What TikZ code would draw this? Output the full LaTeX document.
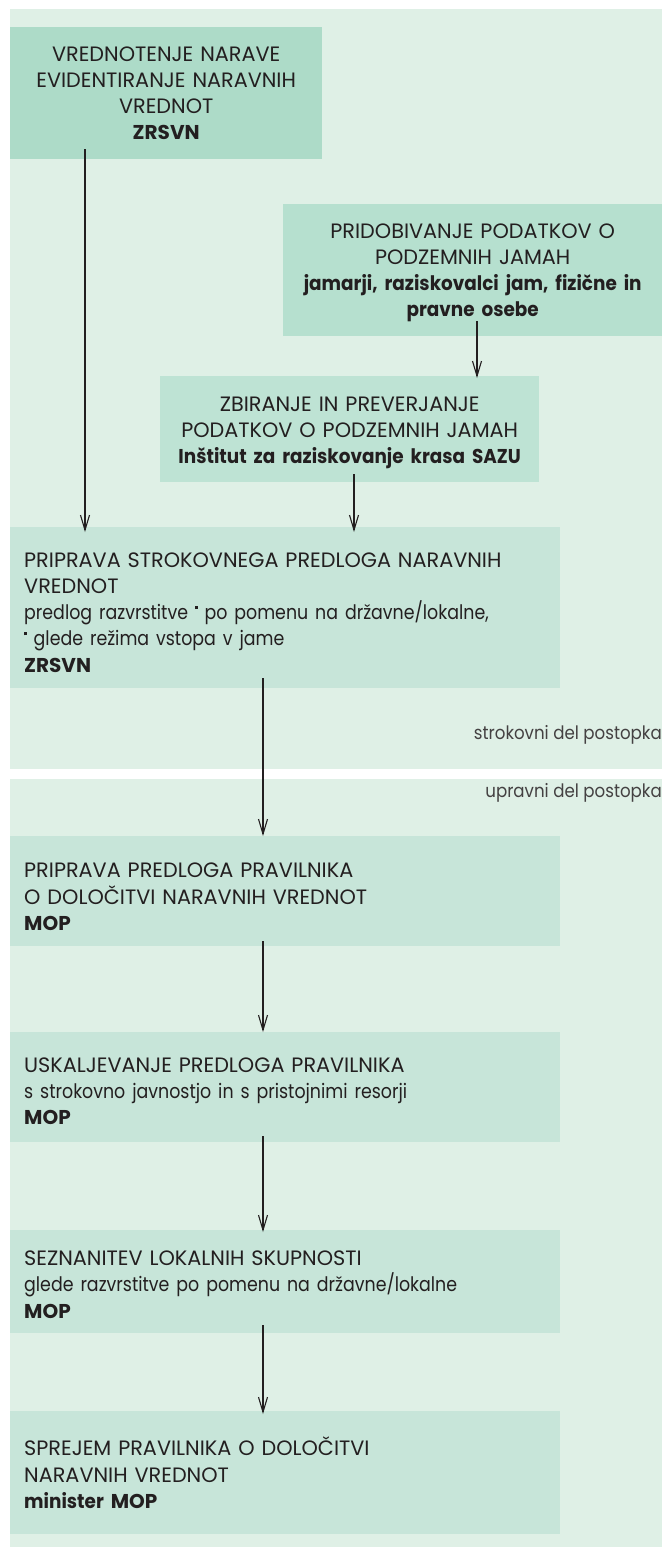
\documentclass[tikz,border=0pt]{standalone}
\usepackage{fontspec}
\setmainfont{Poppins}
\newfontfamily\lowf[FakeStretch=0.87]{Poppins}
\newfontfamily\lowbf[FakeStretch=0.92]{Poppins}
\newfontfamily\sidef[FakeStretch=0.9]{Poppins}
\usetikzlibrary{arrows.meta}
\definecolor{bgc}{HTML}{DFF0E6}
\definecolor{cA}{HTML}{ADDBC8}
\definecolor{cB}{HTML}{B6E0CF}
\definecolor{cC}{HTML}{BEE3D4}
\definecolor{cD}{HTML}{C7E5D9}
\definecolor{ink}{HTML}{231F20}
\newcommand{\sqbul}{\raisebox{10.5pt}{\rule{2.6pt}{3.4pt}}}
\newcommand{\LO}[1]{{\lowf\fontsize{20}{26.3}\selectfont #1}}
\newcommand{\LB}[1]{{\lowbf\bfseries\fontsize{20}{26.3}\selectfont #1}}
\newcommand{\CB}[1]{{\bfseries\fontsize{20}{26.3}\selectfont #1}}
\newcommand{\dn}[1]{\rule{0pt}{#1}}
\begin{document}
\begin{tikzpicture}[x=1pt,y=-1pt,
  boxbase/.style={anchor=north west, inner ysep=0pt, text=ink,
    font=\fontsize{20.8}{26.3}\selectfont},
  boxc/.style={boxbase, align=center, inner xsep=8pt},
  boxl/.style={boxbase, align=left, inner xsep=14pt, fill=cD,
    minimum width=550pt, text width=522pt},
  arr/.style={draw=ink, line width=1.1pt, -{Straight Barb[length=15pt,width=9pt]}},
  side/.style={anchor=east, inner sep=0pt, text=ink!85,
    font=\sidef\fontsize{18.5}{22}\selectfont}
]
\useasboundingbox (0,0) rectangle (662,1547);
\fill[bgc] (10,9) rectangle (662,769);
\fill[bgc] (10,779) rectangle (662,1547);

\node[boxc, fill=cA, minimum width=312pt, text width=296pt, minimum height=132pt] (b1) at (10,27)
  {VREDNOTENJE NARAVE\\EVIDENTIRANJE NARAVNIH\\VREDNOT\\\CB{ZRSVN}};
\node[boxc, fill=cB, minimum width=379pt, text width=363pt, minimum height=132pt] (b2) at (283,204)
  {\dn{20pt}PRIDOBIVANJE PODATKOV O\\PODZEMNIH JAMAH\\\LB{jamarji, raziskovalci jam, fizične in}\\\LB{pravne osebe}};
\node[boxc, fill=cC, minimum width=379pt, text width=363pt, minimum height=106pt] (b3) at (160,376)
  {\dn{22pt}ZBIRANJE IN PREVERJANJE\\PODATKOV O PODZEMNIH JAMAH\\\LB{Inštitut za raziskovanje krasa SAZU}};
\node[boxl, minimum height=161pt] (b4) at (10,527)
  {\dn{24pt}PRIPRAVA STROKOVNEGA PREDLOGA NARAVNIH\\VREDNOT\\\LO{predlog razvrstitve \sqbul\ po pomenu na državne/lokalne,}\\\LO{\sqbul\ glede režima vstopa v jame}\\\CB{ZRSVN}};
\node[boxl, minimum height=110pt] (b5) at (10,836)
  {\dn{26pt}PRIPRAVA PREDLOGA PRAVILNIKA\\O DOLOČITVI NARAVNIH VREDNOT\\\CB{MOP}};
\node[boxl, minimum height=110pt] (b6) at (10,1032)
  {\dn{22.5pt}USKALJEVANJE PREDLOGA PRAVILNIKA\\\LO{s strokovno javnostjo in s pristojnimi resorji}\\\CB{MOP}};
\node[boxl, minimum height=103pt] (b7) at (10,1230)
  {\dn{20.5pt}SEZNANITEV LOKALNIH SKUPNOSTI\\\LO{glede razvrstitve po pomenu na državne/lokalne}\\\CB{MOP}};
\node[boxl, minimum height=123pt] (b8) at (10,1411)
  {SPREJEM PRAVILNIKA O DOLOČITVI\\NARAVNIH VREDNOT\\\LB{minister} \CB{MOP}};

\node[side] (l1) at (662,735) {strokovni del postopka};
\node[side] (l2) at (662,793) {upravni del postopka};

\coordinate (xa) at (85,0);
\coordinate (xb) at (477,0);
\coordinate (xc) at (354,0);
\coordinate (xd) at (263,0);

\draw[arr, shorten <=-10pt, shorten >=-5pt] (b1.south -| xa) -- (b4.north -| xa);
\draw[arr, shorten <=-15pt, shorten >=-2pt] (b2.south -| xb) -- (b3.north -| xb);
\draw[arr, shorten <=-8pt, shorten >=-5pt] (b3.south -| xc) -- (b4.north -| xc);
\draw[arr, shorten <=-10pt] (b4.south -| xd) -- (b5.north -| xd);
\draw[arr, shorten <=-5pt] (b5.south -| xd) -- (b6.north -| xd);
\draw[arr, shorten <=-6pt, shorten >=-2pt] (b6.south -| xd) -- (b7.north -| xd);
\draw[arr, shorten <=-8pt, shorten >=-3pt] (b7.south -| xd) -- (b8.north -| xd);
\end{tikzpicture}
\end{document}
